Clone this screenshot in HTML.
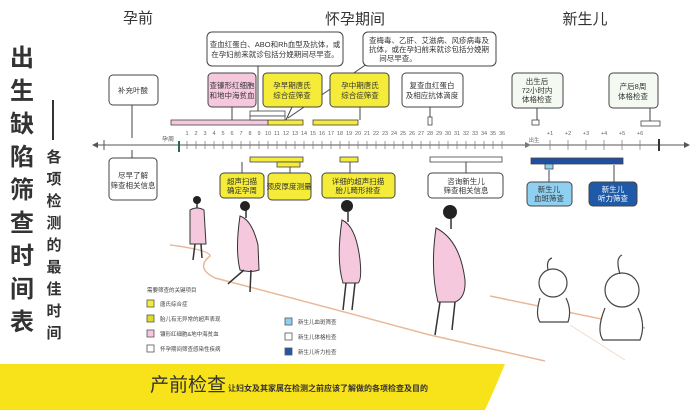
<!DOCTYPE html>
<html><head><meta charset="utf-8"><style>
body{margin:0;background:#fff}
svg{display:block}
text{font-family:"Liberation Sans","Noto Sans CJK SC",sans-serif}
</style></head><body>
<svg width="693" height="410" viewBox="0 0 693 410" xmlns="http://www.w3.org/2000/svg">
<g font-size="24" font-weight="bold" fill="#333" text-anchor="middle">
<text x="22" y="66">出</text><text x="22" y="99">生</text><text x="22" y="132">缺</text><text x="22" y="165">陷</text><text x="22" y="198">筛</text><text x="22" y="231">查</text><text x="22" y="264">时</text><text x="22" y="297">间</text><text x="22" y="330">表</text>
</g>
<line x1="53" y1="100" x2="53" y2="140" stroke="#333" stroke-width="2"/>
<g font-size="15" font-weight="bold" fill="#333" text-anchor="middle">
<text x="54" y="162">各</text><text x="54" y="184">项</text><text x="54" y="206">检</text><text x="54" y="228">测</text><text x="54" y="250">的</text><text x="54" y="272">最</text><text x="54" y="294">佳</text><text x="54" y="316">时</text><text x="54" y="338">间</text>
</g>
<g font-size="15" fill="#333" text-anchor="middle">
<text x="138" y="23">孕前</text><text x="355" y="24">怀孕期间</text><text x="585" y="24">新生儿</text>
</g>
<path d="M170 245 Q 210 250 210 256 Q 195 268 215 278 Q 300 300 430 335 L 545 361" fill="none" stroke="#e8b898" stroke-width="1.5"/>
<path d="M490 296 L 645 328" fill="none" stroke="#e8b898" stroke-width="1.5"/>
<path d="M570 325 L 625 360" fill="none" stroke="#f0dcc8" stroke-width="1"/>
<line x1="95" y1="145" x2="686" y2="145" stroke="#555" stroke-width="1"/>
<polygon points="92,145 98,142 98,148" fill="#555"/>
<polygon points="690,145 684,142 684,148" fill="#555"/>
<line x1="104" y1="140" x2="104" y2="150" stroke="#555"/>
<rect x="178" y="141" width="2" height="11" fill="#2a6a4a"/>
<rect x="658" y="139" width="2" height="12" fill="#333"/>
<text x="162" y="141" font-size="6" fill="#555">孕周</text>
<g stroke="#777" stroke-width="0.7">
<path d="M187 141v8M196 141v8M205 141v8M214 141v8M223 141v8M232 141v8M241 141v8M250 141v8M259 141v8M268 141v8M277 141v8M286 141v8M295 141v8M304 141v8M313 141v8M322 141v8M331 141v8M340 141v8M349 141v8M358 141v8M367 141v8M376 141v8M385 141v8M394 141v8M403 141v8M412 141v8M421 141v8M430 141v8M439 141v8M448 141v8M457 141v8M466 141v8M475 141v8M484 141v8M493 141v8M502 141v8M550 140v10M568 140v10M586 140v10M604 140v10M622 140v10M640 140v10"/>
</g>
<g font-size="5.5" fill="#666" text-anchor="middle">
<text x="187" y="135">1</text><text x="196" y="135">2</text><text x="205" y="135">3</text><text x="214" y="135">4</text><text x="223" y="135">5</text><text x="232" y="135">6</text><text x="241" y="135">7</text><text x="250" y="135">8</text><text x="259" y="135">9</text><text x="268" y="135">10</text><text x="277" y="135">11</text><text x="286" y="135">12</text><text x="295" y="135">13</text><text x="304" y="135">14</text><text x="313" y="135">15</text><text x="322" y="135">16</text><text x="331" y="135">17</text><text x="340" y="135">18</text><text x="349" y="135">19</text><text x="358" y="135">20</text><text x="367" y="135">21</text><text x="376" y="135">22</text><text x="385" y="135">23</text><text x="394" y="135">24</text><text x="403" y="135">25</text><text x="412" y="135">26</text><text x="421" y="135">27</text><text x="430" y="135">28</text><text x="439" y="135">29</text><text x="448" y="135">30</text><text x="457" y="135">31</text><text x="466" y="135">32</text><text x="475" y="135">33</text><text x="484" y="135">34</text><text x="493" y="135">35</text><text x="502" y="135">36</text>
<text x="550" y="135">+1</text><text x="568" y="135">+2</text><text x="586" y="135">+3</text><text x="604" y="135">+4</text><text x="622" y="135">+5</text><text x="640" y="135">+6</text>
<text x="534" y="142">出生</text>
</g>
<polygon points="531,145 525,142 525,148" fill="#777"/>
<g stroke="#444" stroke-width="1" fill="none">
<line x1="132" y1="105" x2="132" y2="138"/><line x1="132" y1="150" x2="132" y2="158"/>
<line x1="232" y1="107" x2="232" y2="120"/>
<line x1="292" y1="107" x2="286" y2="120"/>
<line x1="258" y1="66" x2="258" y2="112"/>
<line x1="380" y1="55" x2="288" y2="118"/>
<line x1="360" y1="107" x2="360" y2="120"/>
<line x1="430" y1="107" x2="430" y2="117"/>
<line x1="537" y1="108" x2="537" y2="121"/>
<line x1="650" y1="108" x2="650" y2="121"/>
<line x1="290" y1="167" x2="290" y2="173"/><line x1="242" y1="162" x2="242" y2="173"/>
<line x1="350" y1="162" x2="350" y2="173"/>
<line x1="466" y1="162" x2="466" y2="173"/>
<line x1="614" y1="165" x2="614" y2="182"/><line x1="549" y1="170" x2="549" y2="182"/>
</g>
<g stroke="#444" stroke-width="0.8">
<rect x="171" y="120" width="97" height="5" fill="#f6c8de"/>
<rect x="268" y="120" width="35" height="5" fill="#f5ec3a"/>
<rect x="250" y="111" width="35" height="5" fill="#fff"/>
<rect x="250" y="116" width="35" height="4" fill="#fff"/>
<rect x="313" y="120" width="45" height="5" fill="#f5ec3a"/>
<rect x="428" y="117" width="4" height="8" fill="#fff"/>
<rect x="532" y="120" width="7" height="5" fill="#fff"/>
<rect x="641" y="121" width="19" height="5" fill="#fff"/>
<rect x="250" y="157" width="53" height="5" fill="#f5ec3a"/>
<rect x="277" y="162" width="23" height="5" fill="#f5ec3a"/>
<rect x="340" y="157" width="18" height="5" fill="#f5ec3a"/>
<rect x="430" y="157" width="72" height="5" fill="#fff"/>
<rect x="531" y="158" width="92" height="6" fill="#1f4f9e"/>
<rect x="545" y="164" width="8" height="5" fill="#8fd0f0"/>
</g>
<g stroke="#444" stroke-width="1">
<rect x="109" y="75" width="49" height="30" rx="4" fill="#fff"/>
<rect x="208" y="73" width="48" height="34" rx="4" fill="#f6c8de"/>
<rect x="263" y="73" width="59" height="34" rx="4" fill="#f5ec3a"/>
<rect x="330" y="73" width="59" height="34" rx="4" fill="#f5ec3a"/>
<rect x="402" y="73" width="61" height="34" rx="4" fill="#fff"/>
<rect x="512" y="73" width="51" height="35" rx="4" fill="#f4faf2"/>
<rect x="609" y="73" width="49" height="35" rx="4" fill="#f4faf2"/>
<rect x="207" y="32" width="136" height="34" rx="5" fill="#fff"/>
<rect x="363" y="32" width="133" height="34" rx="5" fill="#fff"/>
<rect x="109" y="158" width="48" height="42" rx="4" fill="#fff"/>
<rect x="220" y="173" width="44" height="25" rx="4" fill="#f5ec3a"/>
<rect x="268" y="173" width="43" height="27" rx="4" fill="#f5ec3a"/>
<rect x="322" y="173" width="73" height="25" rx="4" fill="#f5ec3a"/>
<rect x="428" y="173" width="75" height="25" rx="4" fill="#fff"/>
<rect x="527" y="182" width="45" height="24" rx="4" fill="#8fd0f0"/>
<rect x="589" y="182" width="48" height="24" rx="4" fill="#1f5aa8"/>
</g>
<g font-size="7.5" fill="#333" text-anchor="middle">
<text x="133" y="93">补充叶酸</text>
<text x="232" y="88">查镰形红细胞</text><text x="232" y="98">和地中海贫血</text>
<text x="292" y="88">孕早期唐氏</text><text x="292" y="98">综合症筛查</text>
<text x="360" y="88">孕中期唐氏</text><text x="360" y="98">综合症筛查</text>
<text x="432" y="88">复查血红蛋白</text><text x="432" y="98">及相应抗体滴度</text>
<text x="537" y="84">出生后</text><text x="537" y="93">72小时内</text><text x="537" y="102">体格检查</text>
<text x="633" y="89">产后8周</text><text x="633" y="99">体格检查</text>
<text x="275" y="47">查血红蛋白、ABO和Rh血型及抗体，或</text><text x="275" y="57">在孕妇前来就诊包括分娩期间尽早查。</text>
<text x="429" y="43">查梅毒、乙肝、艾滋病、风疹病毒及</text><text x="429" y="52">抗体，或在孕妇前来就诊包括分娩期</text><text x="398" y="61">间尽早查。</text>
<text x="133" y="178">尽早了解</text><text x="133" y="188">筛查相关信息</text>
<text x="242" y="184">超声扫描</text><text x="242" y="193">确定孕周</text>
<text x="289" y="189">颈皮厚度测量</text>
<text x="358" y="184">详细的超声扫描</text><text x="358" y="193">胎儿畸形排查</text>
<text x="466" y="184">咨询新生儿</text><text x="466" y="193">筛查相关信息</text>
<text x="549" y="192">新生儿</text><text x="549" y="201">血斑筛查</text>
<text x="613" y="192" fill="#fff">新生儿</text><text x="613" y="201" fill="#fff">听力筛查</text>
</g>
<g stroke="#333" stroke-width="1.5"><path d="M197 203v6M246 210v8M348 212v10M451 219v10"/></g>
<g fill="#f6c8de" stroke="#333" stroke-width="1">
<path d="M190 210 Q197 206 204 210 L206 244 L190 244 Z"/>
<path d="M240 216 Q252 220 258 245 L259 270 Q250 273 240 270 Q235 250 240 216 Z"/>
<path d="M342 220 Q356 226 360 260 Q362 280 358 283 L343 283 Q336 260 342 220 Z"/>
<path d="M436 228 Q460 240 465 280 Q466 298 455 302 L438 302 Q430 270 436 228 Z"/>
</g>
<g fill="#222"><circle cx="197" cy="200" r="4"/><circle cx="245" cy="206" r="5"/><circle cx="347" cy="206" r="6"/><circle cx="450" cy="212" r="7"/></g>
<g stroke="#333" stroke-width="1.5" fill="none">
<path d="M195 244 L193 260M201 244 L202 258"/>
<path d="M244 270 L230 282 L228 284M251 270 L250 292"/>
<path d="M346 283 L343 310M355 283 L352 310"/>
<path d="M440 302 L435 335M455 302 L452 330"/>
</g>
<g fill="#fff" stroke="#444" stroke-width="1.2">
<circle cx="553" cy="283" r="14"/><path d="M540 298 Q535 315 540 322 L568 322 Q572 310 566 298"/>
<circle cx="622" cy="290" r="17"/><path d="M605 308 Q596 330 603 340 L640 340 Q646 325 638 308"/>
<path d="M548 270 Q546 260 552 258M620 274 Q615 258 622 255" fill="none"/>
</g>
<text x="147" y="292" font-size="5.5" fill="#444">需要筛查的关键项目</text>
<g stroke="#555" stroke-width="0.8">
<rect x="147" y="300" width="7" height="7" fill="#f5ec3a"/>
<rect x="147" y="315" width="7" height="7" fill="#dede20"/>
<rect x="147" y="330" width="7" height="7" fill="#f6c8de"/>
<rect x="147" y="345" width="7" height="7" fill="#fff"/>
<rect x="285" y="318" width="7" height="7" fill="#8fd0f0"/>
<rect x="285" y="333" width="7" height="7" fill="#fff"/>
<rect x="285" y="348" width="7" height="7" fill="#1f5aa8"/>
</g>
<g font-size="5.5" fill="#444">
<text x="160" y="306">唐氏综合症</text><text x="160" y="321">胎儿有无异常的超声表现</text><text x="160" y="336">镰形红细胞&amp;地中海贫血</text><text x="160" y="351">怀孕期间筛查感染性疾病</text>
<text x="298" y="324">新生儿血斑筛查</text><text x="298" y="339">新生儿体格检查</text><text x="298" y="354">新生儿听力检查</text>
</g>
<polygon points="0,364 505,364 494,390 485,410 0,410" fill="#f8e21a"/>
<text x="150" y="391" font-size="19" fill="#333">产前检查</text>
<text x="228" y="391" font-size="8" fill="#333" font-weight="bold">让妇女及其家属在检测之前应该了解做的各项检查及目的</text>
</svg>
</body></html>
